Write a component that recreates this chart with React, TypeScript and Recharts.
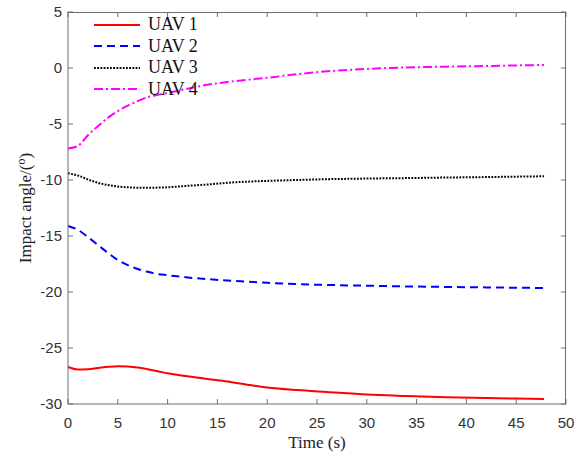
import React from "react";
import { Label, Line, LineChart, ReferenceLine, XAxis, YAxis } from "recharts";

const time = [0, 1, 2, 3, 4, 5, 6, 7, 8, 9, 10, 12, 14, 16, 18, 20, 23, 26, 30, 34, 38, 42, 45, 47.8];

const uav1 = [
  -26.7, -26.92, -26.9, -26.78, -26.68, -26.62, -26.65, -26.75, -26.9, -27.07, -27.26, -27.52,
  -27.77, -28.0, -28.28, -28.53, -28.76, -28.93, -29.15, -29.28, -29.39, -29.47, -29.52, -29.56,
];
const uav2 = [
  -14.1, -14.45, -15.1, -15.8, -16.5, -17.15, -17.6, -17.95, -18.2, -18.4, -18.5, -18.7, -18.85,
  -18.98, -19.08, -19.18, -19.3, -19.37, -19.44, -19.5, -19.55, -19.59, -19.62, -19.64,
];
const uav3 = [
  -9.4, -9.6, -9.95, -10.25, -10.45, -10.58, -10.65, -10.69, -10.7, -10.68, -10.65, -10.52, -10.4,
  -10.25, -10.15, -10.08, -10.0, -9.93, -9.87, -9.83, -9.78, -9.74, -9.7, -9.67,
];
const uav4 = [
  -7.19, -6.95, -6.0, -5.2, -4.45, -3.85, -3.35, -2.95, -2.6, -2.4, -2.22, -1.85, -1.5, -1.25,
  -1.05, -0.88, -0.55, -0.3, -0.08, 0.05, 0.12, 0.18, 0.23, 0.27,
];

const xTicks = [0, 5, 10, 15, 20, 25, 30, 35, 40, 45, 50];
const yTicks = [-30, -25, -20, -15, -10, -5, 0, 5];
const X_MAX = 50;
const Y_MAX = 5;

const SERIES = [
  { key: "uav1", name: "UAV 1", color: "#ff0000", dash: undefined as string | undefined },
  { key: "uav2", name: "UAV 2", color: "#0000ff", dash: "8 5" },
  { key: "uav3", name: "UAV 3", color: "#000000", dash: "1.8 1.4" },
  { key: "uav4", name: "UAV 4", color: "#ff00ff", dash: "9 3 2 3" },
];

const data = time.map((t, i) => ({
  t,
  uav1: uav1[i],
  uav2: uav2[i],
  uav3: uav3[i],
  uav4: uav4[i],
}));

const AXIS = "#6e6e6e";
const tickStyle = { fontSize: 15, fill: "#333", fontFamily: "Liberation Sans, Arial, sans-serif" };
const serif = "Liberation Serif, Times New Roman, serif";

// plot box, matches the chart margins + axis sizes below
const BOX = { left: 68, top: 12, width: 498, height: 392 };

// legend sits inside the plot, top-left, no box
function LegendBox() {
  return (
    <div
      style={{
        position: "absolute",
        left: 94,
        top: 14,
        fontFamily: serif,
        fontSize: 18,
        color: "#111",
        pointerEvents: "none",
      }}
    >
      {SERIES.map((s) => (
        <div key={s.key} style={{ display: "flex", alignItems: "center", height: 21.5 }}>
          <svg width={46} height={10} style={{ marginRight: 8 }}>
            <line x1={0} y1={5} x2={46} y2={5} stroke={s.color} strokeWidth={2} strokeDasharray={s.dash} />
          </svg>
          <span>{s.name}</span>
        </div>
      ))}
    </div>
  );
}

export default function App() {
  return (
    <div style={{ position: "absolute", left: 0, top: 0, width: 588, height: 457, background: "#fff" }}>
      <LineChart width={588} height={457} data={data} margin={{ top: 12, right: 22, bottom: 13, left: 28 }}>
        <XAxis
          dataKey="t"
          type="number"
          domain={[0, X_MAX]}
          ticks={xTicks}
          height={40}
          tickSize={-5}
          tickMargin={18}
          stroke={AXIS}
          tick={tickStyle}
          interval={0}
        >
          <Label
            content={({ viewBox }: any) => (
              <text
                x={viewBox.x + viewBox.width / 2}
                y={viewBox.y + 44}
                textAnchor="middle"
                fontFamily={serif}
                fontSize={17}
                fill="#222"
              >
                Time (s)
              </text>
            )}
          />
        </XAxis>
        <YAxis
          type="number"
          domain={[-30, Y_MAX]}
          ticks={yTicks}
          width={40}
          tickSize={-5}
          tickMargin={11}
          stroke={AXIS}
          tick={tickStyle}
          interval={0}
        >
          <Label
            content={({ viewBox }: any) => {
              const cx = viewBox.x + 3;
              const cy = viewBox.y + viewBox.height / 2;
              return (
                <text
                  transform={`translate(${cx},${cy}) rotate(-90)`}
                  textAnchor="middle"
                  fontFamily={serif}
                  fontSize={17}
                  fill="#222"
                >
                  Impact angle/(
                  <tspan fontSize={12} dy={-6}>o</tspan>
                  <tspan dy={6}>)</tspan>
                </text>
              );
            }}
          />
        </YAxis>

        {/* inward ticks on the top and right edges */}
        {xTicks.map((t) => (
          <ReferenceLine
            key={`tx${t}`}
            segment={[{ x: t, y: Y_MAX }, { x: t, y: Y_MAX - 0.45 }]}
            stroke={AXIS}
            ifOverflow="visible"
          />
        ))}
        {yTicks.map((v) => (
          <ReferenceLine
            key={`ry${v}`}
            segment={[{ x: X_MAX, y: v }, { x: X_MAX - 0.5, y: v }]}
            stroke={AXIS}
            ifOverflow="visible"
          />
        ))}

        {SERIES.map((s) => (
          <Line
            key={s.key}
            type="monotone"
            dataKey={s.key}
            name={s.name}
            stroke={s.color}
            strokeWidth={2}
            strokeDasharray={s.dash}
            dot={false}
            isAnimationActive={false}
          />
        ))}
      </LineChart>
      {/* top/right edges of the frame */}
      <div
        style={{
          position: "absolute",
          left: BOX.left,
          top: BOX.top - 0.5,
          width: BOX.width,
          height: BOX.height,
          borderTop: `1px solid ${AXIS}`,
          borderRight: `1px solid ${AXIS}`,
          boxSizing: "border-box",
          pointerEvents: "none",
        }}
      />
      <LegendBox />
    </div>
  );
}
